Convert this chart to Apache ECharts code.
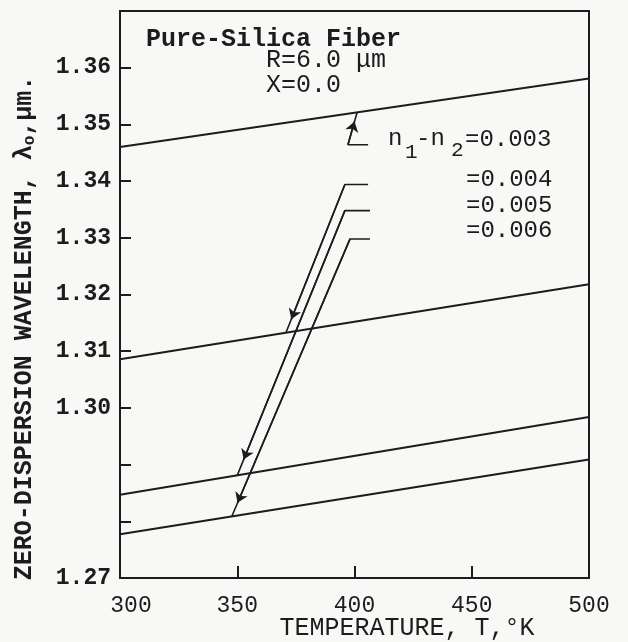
<!DOCTYPE html>
<html>
<head>
<meta charset="utf-8">
<script src="https://cdn.jsdelivr.net/npm/echarts@6/dist/echarts.min.js"></script>
<style>
html,body{margin:0;padding:0;background:#f8f8f6;}
#c{width:628px;height:642px;}
</style>
</head>
<body>
<div id="c"></div>
<script>
// ---- data ----
const temps = [300, 500];
const fiber003 = [1.3460, 1.3581];
const fiber004 = [1.3086, 1.3218];
const fiber005 = [1.2847, 1.2984];
const fiber006 = [1.2777, 1.2909];
const xTicks = [300, 350, 400, 450, 500];
const yLabelValues = ['1.27', '1.30', '1.31', '1.32', '1.33', '1.34', '1.35', '1.36'];
// leader lines (data coordinates: temperature, wavelength)
const leader003 = [[405.8, 1.3464], [397.2, 1.3464], [401.1, 1.3521]];
const leader004 = [[405.8, 1.3394], [395.9, 1.3394], [370.8, 1.3133]];
const leader005 = [[406.6, 1.3348], [395.9, 1.3348], [350.0, 1.2881]];
const leader006 = [[406.6, 1.3298], [398.1, 1.3298], [347.6, 1.2808]];
const arrowFrac = [0.72, 0.91, 0.94, 0.95];

const INK = '#1c1c1c';
const MONO = '"Liberation Mono", "DejaVu Sans Mono", monospace';

function pair(xs, ys){ return xs.map((x,i)=>[x, ys[i]]); }

function leaderSeries(pts, frac){
  const a = pts[pts.length-2], b = pts[pts.length-1];
  const tip = [a[0] + (b[0]-a[0])*frac, a[1] + (b[1]-a[1])*frac];
  return {
    type: 'line', data: pts, symbol: 'none', silent: true,
    lineStyle: {color: INK, width: 1.6},
    markLine: {
      silent: true, symbol: ['none', 'arrow'], symbolSize: 10,
      label: {show: false},
      emphasis: {disabled: true},
      lineStyle: {color: INK, width: 1.6, type: 'solid'},
      data: [[{coord: a, symbol: 'none'}, {coord: tip, symbol: 'arrow', symbolSize: 10}]]
    }
  };
}

function mainSeries(ys){
  return {type: 'line', data: pair(temps, ys), symbol: 'none', silent: true,
    lineStyle: {color: INK, width: 2}};
}

const chart = echarts.init(document.getElementById('c'), null, {renderer: 'canvas'});
chart.setOption({
  animation: false,
  backgroundColor: '#f8f8f6',
  grid: {left: 120, right: 39, top: 11, bottom: 64, show: true,
         borderColor: INK, borderWidth: 2, backgroundColor: 'transparent'},
  xAxis: {
    type: 'value', min: xTicks[0], max: xTicks[xTicks.length-1], interval: 50,
    axisLine: {show: true, lineStyle: {color: INK, width: 2}},
    axisTick: {show: true, inside: true, length: 12, lineStyle: {color: INK, width: 2}},
    splitLine: {show: false},
    axisLabel: {
      margin: 16, color: INK, fontFamily: MONO, fontSize: 23,
      formatter: v => v === 300 ? '{a|300}' : String(v),
      rich: {a: {fontFamily: MONO, fontSize: 23, color: INK, padding: [0, 0, 0, 22]}}
    }
  },
  yAxis: {
    type: 'value', min: 1.27, max: 1.37, interval: 0.01,
    axisLine: {show: true, lineStyle: {color: INK, width: 2}},
    axisTick: {show: true, inside: true, length: 11, lineStyle: {color: INK, width: 2}},
    splitLine: {show: false},
    axisLabel: {
      margin: 9, color: INK, fontFamily: MONO, fontSize: 23, fontWeight: 'bold',
      formatter: v => { const s = v.toFixed(2); return yLabelValues.includes(s) ? s : ''; }
    }
  },
  series: [
    mainSeries(fiber003), mainSeries(fiber004), mainSeries(fiber005), mainSeries(fiber006),
    leaderSeries(leader003, arrowFrac[0]), leaderSeries(leader004, arrowFrac[1]),
    leaderSeries(leader005, arrowFrac[2]), leaderSeries(leader006, arrowFrac[3])
  ],
  graphic: [
    {type: 'text', left: 146, top: 27, style: {text: 'Pure-Silica Fiber', font: 'bold 25px ' + MONO, fill: INK}},
    {type: 'text', left: 266, top: 48, style: {text: 'R=6.0 μm', font: '25px ' + MONO, fill: INK}},
    {type: 'text', left: 266, top: 73, style: {text: 'X=0.0', font: '25px ' + MONO, fill: INK}},
    {type: 'text', left: 388, top: 127, style: {text: 'n', font: '24px ' + MONO, fill: INK}},
    {type: 'text', left: 405, top: 142, style: {text: '1', font: '21px ' + MONO, fill: INK}},
    {type: 'text', left: 416, top: 127, style: {text: '-n', font: '24px ' + MONO, fill: INK}},
    {type: 'text', left: 451, top: 140, style: {text: '2', font: '21px ' + MONO, fill: INK}},
    {type: 'text', left: 465, top: 128, style: {text: '=0.003', font: '24px ' + MONO, fill: INK}},
    {type: 'text', left: 466, top: 168, style: {text: '=0.004', font: '24px ' + MONO, fill: INK}},
    {type: 'text', left: 466, top: 194, style: {text: '=0.005', font: '24px ' + MONO, fill: INK}},
    {type: 'text', left: 466, top: 219, style: {text: '=0.006', font: '24px ' + MONO, fill: INK}},
    {type: 'text', x: 407, y: 628, style: {text: 'TEMPERATURE, T,°K', font: '25px ' + MONO, fill: INK,
      textAlign: 'center', textVerticalAlign: 'middle'}},
    {type: 'text', x: 25, y: 328, rotation: Math.PI/2,
      style: {text: 'ZERO-DISPERSION WAVELENGTH, λ{s|o},μm.', font: 'bold 25px ' + MONO, fill: INK,
        textAlign: 'center', textVerticalAlign: 'middle',
        rich: {s: {font: 'bold 16px ' + MONO, fill: INK, padding: [9, 0, 0, 0]}}}}
  ]
});
</script>
</body>
</html>
